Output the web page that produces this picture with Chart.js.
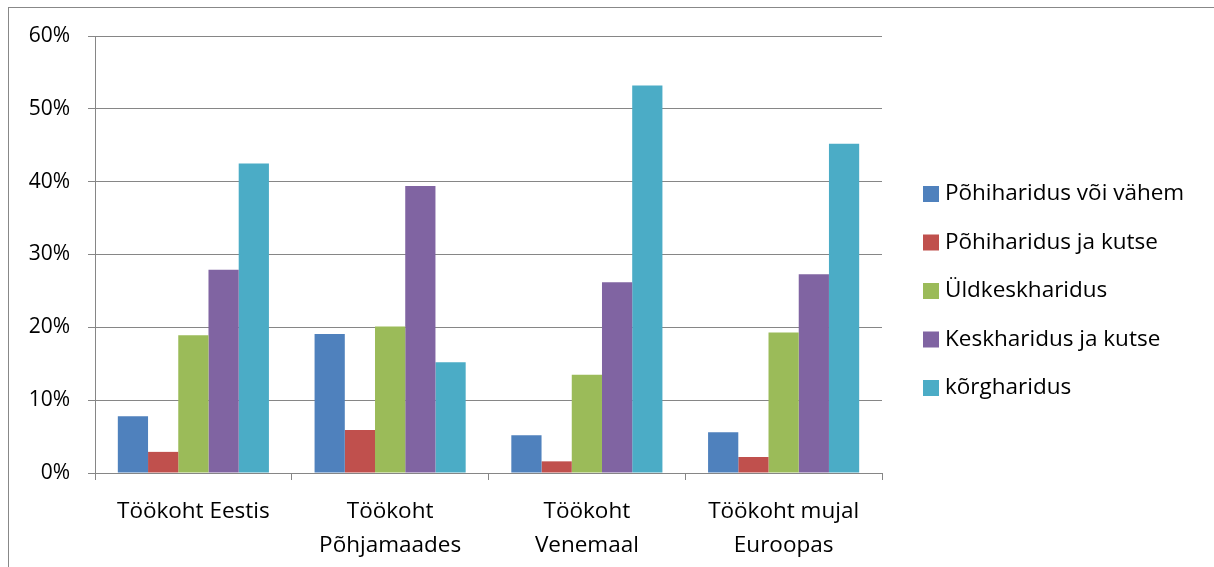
<!DOCTYPE html>
<html>
<head>
<meta charset="utf-8">
<script src="https://cdn.jsdelivr.net/npm/chart.js@4.4.1/dist/chart.umd.min.js"></script>
<style>
  html, body { margin: 0; padding: 0; background: #fff; }
  #wrap { position: relative; width: 1214px; height: 567px; }
  #frame { position: absolute; left: 8px; top: 7px; width: 1300px; height: 700px;
           border-left: 1px solid #888; border-top: 1px solid #888; pointer-events: none; }
</style>
</head>
<body>
<div id="wrap">
  <canvas id="chart" width="1214" height="567"></canvas>
  <div id="frame"></div>
</div>
<script>
  // categories (workplace) and one series per education level, in percent
  let workplaces = [['Töökoht Eestis'], ['Töökoht', 'Põhjamaades'], ['Töökoht', 'Venemaal'], ['Töökoht mujal', 'Euroopas']];
  let pohiharidus = [7.8, 19.1, 5.2, 5.6];
  let pohiharidusKutse = [2.9, 5.9, 1.6, 2.2];
  let yldkesk = [18.9, 20.1, 13.5, 19.3];
  let keskKutse = [27.9, 39.4, 26.2, 27.3];
  let korgharidus = [42.5, 15.2, 53.2, 45.2];
  let seriesNames = ['Põhiharidus või vähem', 'Põhiharidus ja kutse', 'Üldkeskharidus', 'Keskharidus ja kutse', 'kõrgharidus'];
  let seriesColors = ['#4F81BD', '#C0504D', '#9BBB59', '#8064A2', '#4BACC6'];

  let allSeries = [pohiharidus, pohiharidusKutse, yldkesk, keskKutse, korgharidus];
  let datasets = allSeries.map((values, i) => ({
    label: seriesNames[i],
    data: values,
    backgroundColor: seriesColors[i],
    borderWidth: 0,
    categoryPercentage: 0.768,
    barPercentage: 1.0
  }));

  let fontFamily = '"Open Sans", Lato, sans-serif';
  let font = { family: fontFamily, size: 22.5 };
  let gridColor = '#868686';

  // legend drawn by hand to the right of the plot, one row per dataset
  let sideLegend = {
    id: 'sideLegend',
    afterDraw: function (chart) {
      let ctx = chart.ctx;
      let x = chart.chartArea.right + 41;
      let y = 194;
      ctx.save();
      ctx.font = '22.5px ' + fontFamily;
      ctx.textBaseline = 'middle';
      ctx.textAlign = 'left';
      chart.data.datasets.forEach(function (ds, i) {
        let cy = y + i * 48.5;
        ctx.fillStyle = ds.backgroundColor;
        ctx.fillRect(x, cy - 8, 16, 16);
        ctx.fillStyle = '#000';
        ctx.fillText(ds.label, x + 22, cy);
      });
      ctx.restore();
    }
  };

  new Chart(document.getElementById('chart').getContext('2d'), {
    type: 'bar',
    data: { labels: workplaces, datasets: datasets },
    plugins: [sideLegend],
    options: {
      responsive: false,
      devicePixelRatio: 1,
      animation: false,
      layout: { padding: { left: 10, top: 36, right: 332, bottom: 0 } },
      plugins: {
        tooltip: { enabled: false },
        legend: { display: false }
      },
      scales: {
        x: {
          grid: { offset: true, drawOnChartArea: false, color: gridColor, tickLength: 7 },
          border: { color: gridColor },
          ticks: { font: { ...font, lineHeight: 1.5 }, color: '#000', padding: 15, maxRotation: 0 },
          afterFit: function (scale) { scale.height = 94; }
        },
        y: {
          min: 0,
          max: 60,
          grid: { color: gridColor, tickLength: 7 },
          border: { color: gridColor },
          ticks: {
            stepSize: 10,
            font: { ...font, size: 21 },
            color: '#000',
            padding: 18,
            callback: function (v) { return v + '%'; }
          },
          afterFit: function (scale) { scale.width = 85; }
        }
      }
    }
  });
</script>
</body>
</html>
